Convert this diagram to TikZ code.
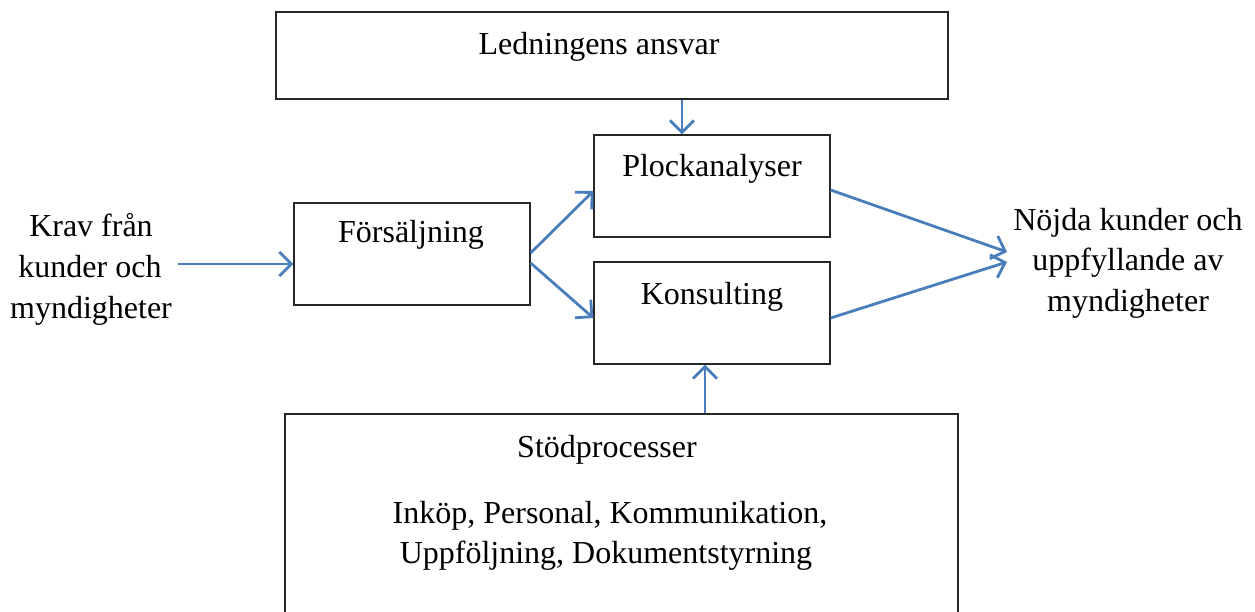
\documentclass[tikz,border=0pt]{standalone}
\usepackage{fontspec}
\setmainfont{Liberation Serif}
\usetikzlibrary{arrows.meta}
\definecolor{arrowblue}{HTML}{4A7EBB}
\begin{document}
\begin{tikzpicture}[x=1pt,y=-1pt,
  box/.style={draw=black!85, line width=1.3pt, inner sep=0pt},
  flow/.style={draw=arrowblue, line width=2.8pt, -{Straight Barb[length=12pt,width=24pt,line width=2.8pt]}},
  txt/.style={font=\fontsize{32}{40}\selectfont, inner sep=0pt, anchor=base}]
\useasboundingbox (0,0) rectangle (1255,612);
\clip (0,0) rectangle (1255,612);
\fill[white] (0,0) rectangle (1255,612);
% boxes
\node[box, minimum width=672pt, minimum height=87pt] (lead) at (612,55.5) {};
\node[box, minimum width=236pt, minimum height=102pt] (plock) at (712,186) {};
\node[box, minimum width=236pt, minimum height=102pt] (kons) at (712,313) {};
\node[box, minimum width=236pt, minimum height=102pt] (fors) at (412,254) {};
\node[box, minimum width=673pt, minimum height=226pt] (stod) at (621.5,527) {};
% texts in boxes
\node[txt] (leadt) at (599,55) {Ledningens ansvar};
\node[txt] (plockt) at (712,177) {Plockanalyser};
\node[txt] (konst) at (712,305) {Konsulting};
\node[txt] (forst) at (411,243) {Försäljning};
\node[txt] (stodt) at (607,457) {Stödprocesser};
\node[txt] (stod1) at (610,523) {Inköp, Personal, Kommunikation,};
\node[txt] (stod2) at (606,563) {Uppföljning, Dokumentstyrning};
% side texts
\node[txt] (krav1) at (91,237) {Krav från};
\node[txt] (krav2) at (90,278) {kunder och};
\node[txt] (krav3) at (91,318) {myndigheter};
\node[txt] (nojd1) at (1128,231) {Nöjda kunder och};
\node[txt] (nojd2) at (1128,271) {uppfyllande av};
\node[txt] (nojd3) at (1128,311) {myndigheter};
\coordinate (kravend) at (178,264);
\coordinate (nojdA) at (1007,252);
\coordinate (nojdB) at (1007,262);
% connectors
\draw[flow] ([xshift=70pt]lead.south) -- ([xshift=-30pt]plock.north);
\draw[flow] ([xshift=83.5pt]stod.north) -- ([xshift=-7pt]kons.south);
\draw[flow] (kravend) -- (kravend -| fors.west);
\draw[flow] ([yshift=1pt]fors.east) -- ([yshift=-5pt]plock.west);
\draw[flow] ([yshift=-9pt]fors.east) -- ([yshift=-5pt]kons.west);
\draw[flow] ([yshift=-4pt]plock.east) -- (nojdA);
\draw[flow] ([yshift=-5pt]kons.east) -- (nojdB);
\end{tikzpicture}
\end{document}
